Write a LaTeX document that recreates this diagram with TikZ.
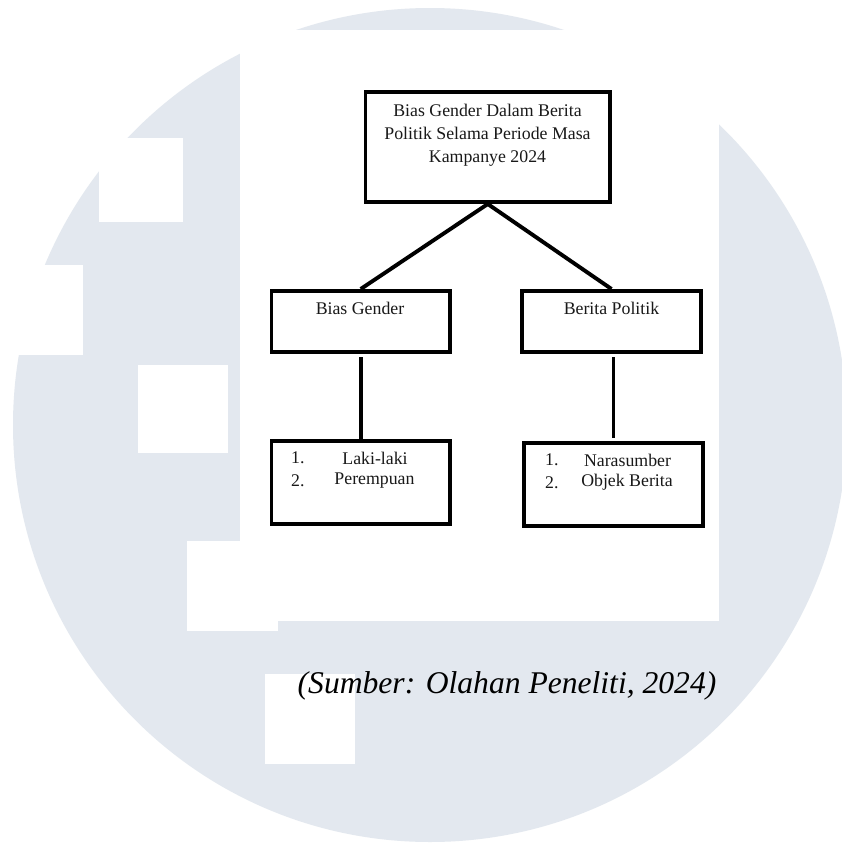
\documentclass[tikz,border=0pt]{standalone}
\usepackage{fontspec}
\setmainfont{Liberation Serif}
\definecolor{wm}{RGB}{227,232,239}
\begin{document}
\begin{tikzpicture}[x=1pt,y=-1pt,
  box/.style={draw=black,line width=3.6pt,rectangle,inner sep=0pt,fill=white},
  lbl/.style={inner sep=0pt,font=\fontsize{17.8}{23}\selectfont,text=black!90},
  conn/.style={draw=black,line width=3.9pt},
  blank/.style={fill=white,draw=none}]
\useasboundingbox (0,0) rectangle (842,846);
\clip (0,0) rectangle (842,846);
\fill[white] (0,0) rectangle (842,846);
% watermark circle and white blocks
\fill[wm] (430,425) circle[radius=417];
\fill[blank] (240,30) rectangle (719,621);
\fill[blank] (99,138) rectangle (183,222);
\fill[blank] (0,265) rectangle (83,355);
\fill[blank] (138,365) rectangle (228,453);
\fill[blank] (187,541) rectangle (278,631);
\fill[blank] (265,674) rectangle (355,764);
% boxes
\node[box,minimum width=244.9pt,minimum height=110.4pt] (top) at (487.75,147) {};
\node[box,minimum width=178.9pt,minimum height=60.9pt] (bg) at (360.75,321.25) {};
\node[box,minimum width=179.4pt,minimum height=60.9pt] (bp) at (611.5,321.25) {};
\node[box,minimum width=178.9pt,minimum height=83.4pt] (ll) at (360.75,482.5) {};
\node[box,minimum width=179.4pt,minimum height=83.4pt] (nr) at (613.5,484.5) {};
% texts
\node[lbl,align=center] (toptext) at (487.5,135.5) {Bias Gender Dalam Berita\\Politik Selama Periode Masa\\Kampanye 2024};
\node[lbl] (bgtext) at (360,308) {Bias Gender};
\node[lbl] (bptext) at (611.5,308) {Berita Politik};
\node[lbl,anchor=west] (n1a) at (291,458) {1.};
\node[lbl,anchor=west] (n2a) at (291,480.5) {2.};
\node[lbl] (t1a) at (375,458) {Laki-laki};
\node[lbl] (t2a) at (374.5,480.5) {Perempuan};
\node[lbl,anchor=west] (n1b) at (545,460) {1.};
\node[lbl,anchor=west] (n2b) at (545,482.5) {2.};
\node[lbl] (t1b) at (627.5,460) {Narasumber};
\node[lbl] (t2b) at (627,482.5) {Objek Berita};
% connectors
\draw[conn] (top.south) -- (bg.north);
\draw[conn] (top.south) -- (bp.north);
\draw[conn,shorten <=3.5pt] (bg.south) -- (ll.north);
\draw[conn,shorten <=3.5pt,shorten >=3.5pt] (bp.south -| nr.north) -- (nr.north);
% caption
\node[inner sep=0pt,font=\fontsize{31.6}{36}\selectfont\itshape] (cap) at (507,686) {(Sumber: Olahan Peneliti, 2024)};
\end{tikzpicture}
\end{document}
